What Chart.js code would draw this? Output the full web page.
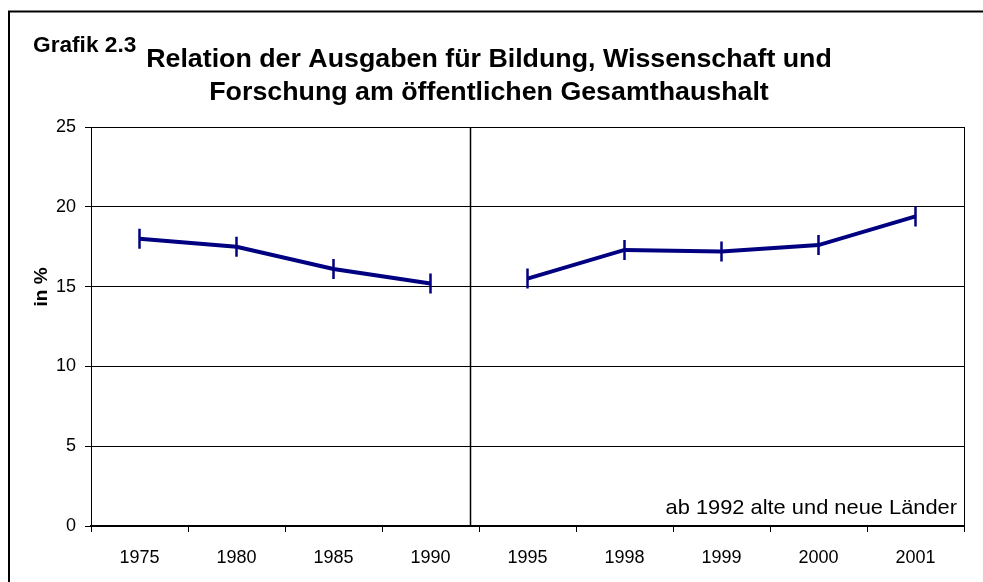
<!DOCTYPE html>
<html><head><meta charset="utf-8">
<script src="https://cdn.jsdelivr.net/npm/chart.js@4/dist/chart.umd.min.js"></script>
<style>html,body{margin:0;padding:0;background:#fff;overflow:hidden}</style>
</head><body>
<canvas id="c" width="983" height="582"></canvas>
<script>
const categories = ['1975','1980','1985','1990','1995','1998','1999','2000','2001'];
const shareValues = [18.0, 17.5, 16.1, 15.2, 15.5, 17.3, 17.2, 17.6, 19.4];
const yTickValues = [0, 5, 10, 15, 20, 25];
const chartLabel = 'Grafik 2.3';
const titleLines = ['Relation der Ausgaben für Bildung, Wissenschaft und', 'Forschung am öffentlichen Gesamthaushalt'];
const yAxisTitle = 'in %';
const noteText = 'ab 1992 alte und neue Länder';
const breakAfterIndex = 3;      // no line between 1990 and 1995
const separatorIndex = 3.41;    // vertical divider (1992)

const NAVY = '#000080';
const FONT = '"Liberation Sans", Arial, sans-serif';

function drawText(ctx, text, x, y, align, font, sx, rot) {
  ctx.save();
  ctx.translate(x, y);
  if (rot) ctx.rotate(rot);
  ctx.scale(sx, 1);
  ctx.font = font;
  ctx.textAlign = align;
  ctx.fillText(text, 0, 0);
  ctx.restore();
}

const decorPlugin = {
  id: 'decor',
  afterDraw(chart) {
    const ctx = chart.ctx;
    const a = chart.chartArea;
    const xs = chart.scales.x;
    ctx.save();
    ctx.strokeStyle = '#000';
    ctx.lineWidth = 2;
    ctx.beginPath();
    ctx.moveTo(9, 600); ctx.lineTo(9, 11.5); ctx.lineTo(990, 11.5);
    ctx.stroke();
    ctx.lineWidth = 1;
    ctx.beginPath();
    ctx.moveTo(a.right + 0.5, a.top); ctx.lineTo(a.right + 0.5, a.bottom);
    ctx.stroke();
    const sx = Math.round(xs.getPixelForValue(separatorIndex)) + 0.5;
    ctx.lineWidth = 1.5;
    ctx.beginPath();
    ctx.moveTo(sx, a.top); ctx.lineTo(sx, a.bottom);
    ctx.stroke();
    ctx.fillStyle = '#000';
    ctx.textBaseline = 'alphabetic';
    drawText(ctx, chartLabel, 33, 52, 'left', 'bold 22px ' + FONT, 1.03);
    drawText(ctx, titleLines[0], 489, 67, 'center', 'bold 26px ' + FONT, 1.03);
    drawText(ctx, titleLines[1], 489, 100, 'center', 'bold 26px ' + FONT, 1.03);
    drawText(ctx, noteText, 957, 514, 'right', '21px ' + FONT, 1.04);
    ctx.textBaseline = 'middle';
    drawText(ctx, yAxisTitle, 42, 287, 'center', 'bold 19px ' + FONT, 1, -Math.PI / 2);
    ctx.restore();
  }
};

new Chart(document.getElementById('c'), {
  type: 'line',
  data: {
    labels: categories,
    datasets: [{
      data: shareValues,
      borderColor: NAVY,
      borderWidth: 4,
      pointStyle: 'line',
      rotation: 90,
      pointRadius: 10,
      pointHoverRadius: 10,
      pointBorderWidth: 2.5,
      pointBorderColor: NAVY,
      pointBackgroundColor: NAVY,
      tension: 0,
      fill: false,
      segment: {
        borderColor: c => c.p0DataIndex === breakAfterIndex ? 'rgba(0,0,0,0)' : NAVY
      }
    }]
  },
  options: {
    responsive: false,
    animation: false,
    events: [],
    layout: { padding: { left: 0, right: 19, top: 127, bottom: 0 } },
    plugins: { legend: { display: false }, title: { display: false }, tooltip: { enabled: false } },
    scales: {
      x: {
        type: 'category',
        offset: true,
        afterFit(s) { s.height = 56; },
        grid: { offset: true, drawOnChartArea: false, drawTicks: true, tickLength: 6, color: '#000', lineWidth: 1 },
        border: { display: true, color: '#000', width: 2 },
        ticks: { color: '#000', font: { family: FONT, size: 18 }, padding: 15, maxRotation: 0, autoSkip: false }
      },
      y: {
        min: 0, max: 25,
        afterFit(s) { s.width = 91; },
        afterBuildTicks(s) { s.ticks = yTickValues.map(v => ({ value: v })); },
        grid: { color: '#000', lineWidth: 1, tickLength: 6, drawTicks: true },
        border: { display: true, color: '#000', width: 1 },
        ticks: { color: '#000', font: { family: FONT, size: 18 }, padding: 9 }
      }
    }
  },
  plugins: [decorPlugin]
});
</script>
</body></html>
